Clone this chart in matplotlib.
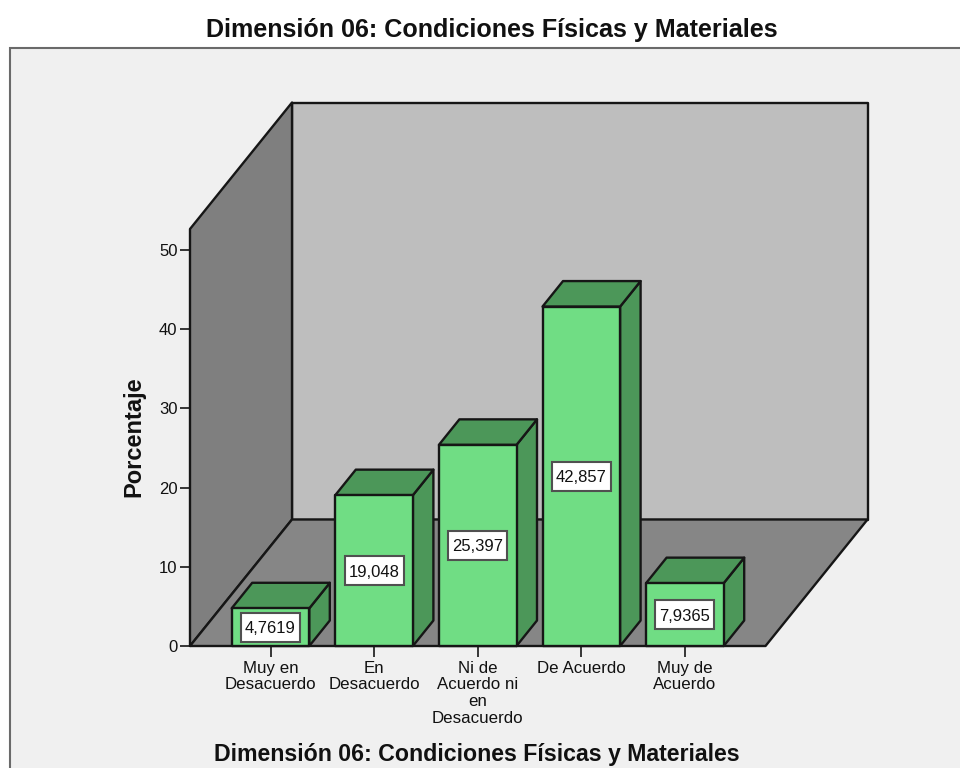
import matplotlib
matplotlib.use("Agg")
import matplotlib.pyplot as plt
from matplotlib.patches import Polygon, Rectangle

plt.rcParams["font.family"] = ["Liberation Sans", "DejaVu Sans"]

chart_title = "Dimensión 06: Condiciones Físicas y Materiales"
categories = ["Muy en\nDesacuerdo", "En\nDesacuerdo", "Ni de\nAcuerdo ni\nen\nDesacuerdo",
              "De Acuerdo", "Muy de\nAcuerdo"]
percentages = [4.7619, 19.048, 25.397, 42.857, 7.9365]
y_ticks = [0, 10, 20, 30, 40, 50]

W, H = 960, 768
PX_PER_CAT = 103.6
PX_PER_UNIT = 7.92
LEFT, RIGHT, BOTTOM, TOP = 190, 765.5, 646, 229
FIRST_CENTER = 270.5

INK = "#161616"
BG = "#F0F0F0"
FRONT = "#70DD84"
SHADE = "#4C9759"
LW = 1.7

fig = plt.figure(figsize=(W / 100, H / 100), dpi=100, facecolor="white")
fig.add_artist(Rectangle((10 / W, -0.02), 1.0, 1 - 48 / H + 0.02, transform=fig.transFigure,
                         facecolor=BG, edgecolor="#6A6A6A", linewidth=1.5, zorder=-5))

ax = fig.add_axes([LEFT / W, 1 - BOTTOM / H, (RIGHT - LEFT) / W, (BOTTOM - TOP) / H])
ax.patch.set_visible(False)
ax.set_xlim((LEFT - FIRST_CENTER) / PX_PER_CAT, (RIGHT - FIRST_CENTER) / PX_PER_CAT)
ax.set_ylim(0, (BOTTOM - TOP) / PX_PER_UNIT)
for side in ax.spines.values():
    side.set_visible(False)

x0, x1 = ax.get_xlim()
y_top = ax.get_ylim()[1]
# Oblique offsets of the chart box and of each bar, in data units
box_dx, box_dy = 102 / PX_PER_CAT, 126.5 / PX_PER_UNIT
bar_dx, bar_dy = 20.5 / PX_PER_CAT, 25.5 / PX_PER_UNIT
half_w = 38.8 / PX_PER_CAT


def face(points, color, z):
    ax.add_patch(Polygon(points, closed=True, facecolor=color, edgecolor=INK,
                         linewidth=LW, joinstyle="round", clip_on=False, zorder=z))


# Walls and floor of the box
face([(x0 + box_dx, box_dy), (x1 + box_dx, box_dy),
      (x1 + box_dx, y_top + box_dy), (x0 + box_dx, y_top + box_dy)], "#BEBEBE", 1)
face([(x0, 0), (x0 + box_dx, box_dy), (x0 + box_dx, y_top + box_dy), (x0, y_top)], "#7F7F7F", 2)
face([(x0, 0), (x1, 0), (x1 + box_dx, box_dy), (x0 + box_dx, box_dy)], "#868686", 2)

# Bars with their value labels
box_w, box_h = 59 / PX_PER_CAT, 29 / PX_PER_UNIT
for i, v in enumerate(percentages):
    l, r = i - half_w, i + half_w
    z = 3 + i
    face([(r, 0), (r + bar_dx, bar_dy), (r + bar_dx, v + bar_dy), (r, v)], SHADE, z)
    face([(l, v), (r, v), (r + bar_dx, v + bar_dy), (l + bar_dx, v + bar_dy)], SHADE, z)
    face([(l, 0), (r, 0), (r, v), (l, v)], FRONT, z)
    ax.add_patch(Rectangle((i - box_w / 2, v / 2 - box_h / 2), box_w, box_h, facecolor="white",
                           edgecolor="#505050", linewidth=1.5, zorder=z + 0.5))
    ax.text(i, v / 2, f"{v:.5g}".replace(".", ","), ha="center", va="center_baseline",
            fontsize=12, color="#111111", zorder=z + 0.6)

ax.set_xticks(range(len(categories)))
ax.set_xticklabels(categories, fontsize=12.2, linespacing=1.14, color="#111111")
ax.set_yticks(y_ticks)
ax.tick_params(axis="x", length=8, width=1.2, color=INK, pad=2.5)
ax.tick_params(axis="y", length=7.5, width=1.2, color=INK, pad=1.5, labelsize=12, labelcolor="#111111")

fig.text(492 / W, 1 - 30 / H, chart_title, ha="center", va="center", fontsize=18.05,
         fontweight="bold", color="#111111")
fig.text(477 / W, 1 - 755 / H, chart_title, ha="center", va="center", fontsize=16.7,
         fontweight="bold", color="#111111")
fig.text(134 / W, 1 - 437 / H, "Porcentaje", ha="center", va="center", rotation=90,
         fontsize=17, fontweight="bold", color="#111111")

fig.savefig("out.png", dpi=100)
